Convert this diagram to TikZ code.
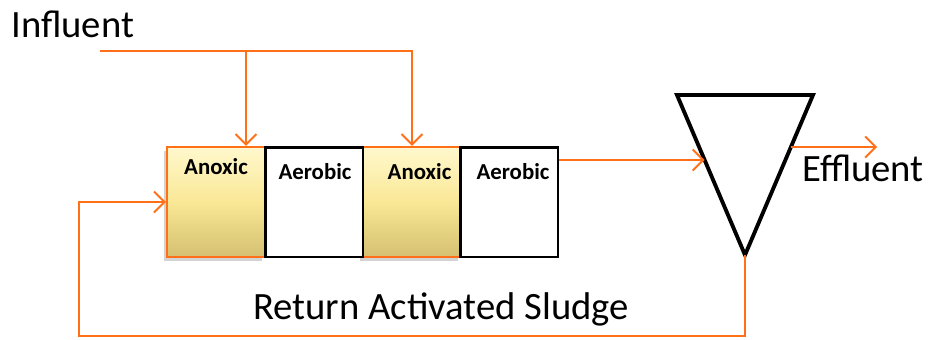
\documentclass[tikz,border=0pt]{standalone}
\usepackage{fontspec}
\setmainfont{Carlito}
\usetikzlibrary{arrows.meta,calc,shadows}
\definecolor{flowc}{RGB}{255,112,24}
\definecolor{anotop}{RGB}{255,248,205}
\definecolor{anomid}{RGB}{250,232,150}
\definecolor{anobot}{RGB}{212,192,112}
\tikzset{
  tank/.style={rectangle,minimum width=1.96cm,minimum height=2.2cm,inner sep=0pt},
  anoxic/.style={tank,draw=flowc,line width=1.2pt,top color=anotop,bottom color=anobot,middle color=anomid,
    drop shadow={shadow xshift=-1.5pt,shadow yshift=-2pt,opacity=0.35}},
  aerobic/.style={tank,draw=black,line width=1.7pt,fill=white},
  zone/.style={anchor=center,font=\bfseries\fontsize{13}{15}\selectfont},
  flow/.style={draw=flowc,line width=1.1pt},
  big/.style={font=\fontsize{22}{26}\selectfont,inner sep=0pt}
}

\begin{document}
\begin{tikzpicture}[x=0.02cm,y=-0.02cm,>={Straight Barb[length=6pt,width=12pt]}]
  \useasboundingbox (0,0) rectangle (929,339);
  % reactor train (aerobic drawn last so black edges sit on top)
  \node[anoxic,label={[zone,yshift=-0.42cm]north:Anoxic}] (an1) at (216,202) {};
  \node[anoxic,label={[zone,xshift=0.16cm,yshift=-0.52cm]north:Anoxic}] (an2) at (411.5,202) {};
  \node[aerobic,label={[zone,xshift=0.02cm,yshift=-0.52cm]north:Aerobic}] (ae1) at (314,202) {};
  \node[aerobic,label={[zone,xshift=0.08cm,yshift=-0.52cm]north:Aerobic}] (ae2) at (509,202) {};
  % clarifier
  \coordinate (tl) at (677,95);
  \coordinate (tr) at (813,95);
  \coordinate (apex) at (745,255);
  \draw[line width=2.2pt,line join=miter] (tl) -- (tr) -- (apex) -- cycle;
  \coordinate (inlet) at ($(tl)!0.406!(apex)$);
  \coordinate (outlet) at ($(tr)!0.325!(apex)$);
  % influent
  \coordinate (in0) at (100,51);
  \coordinate (j1) at (246,51);
  \coordinate (j2) at (412,51);
  \node[big,anchor=base west] (influent) at (11,37) {Influent};
  \draw[flow,->] (in0) -- (j2) -- (j2 |- an2.north);
  \draw[flow,->] (j1) -- (j1 |- an1.north);
  % to clarifier and effluent
  \draw[flow,->] (ae2.east |- inlet) -- (inlet);
  \coordinate (eff) at (877,147);
  \draw[flow,->] (outlet) -- (eff);
  \node[big,anchor=base west] (effluent) at (802,181) {Effluent};
  % return sludge
  \coordinate (ret) at (79,336);
  \draw[flow,->] (apex) |- (ret) |- (an1.west);
  \node[big,anchor=base west] (ras) at (253,319) {Return Activated Sludge};
\end{tikzpicture}
\end{document}
